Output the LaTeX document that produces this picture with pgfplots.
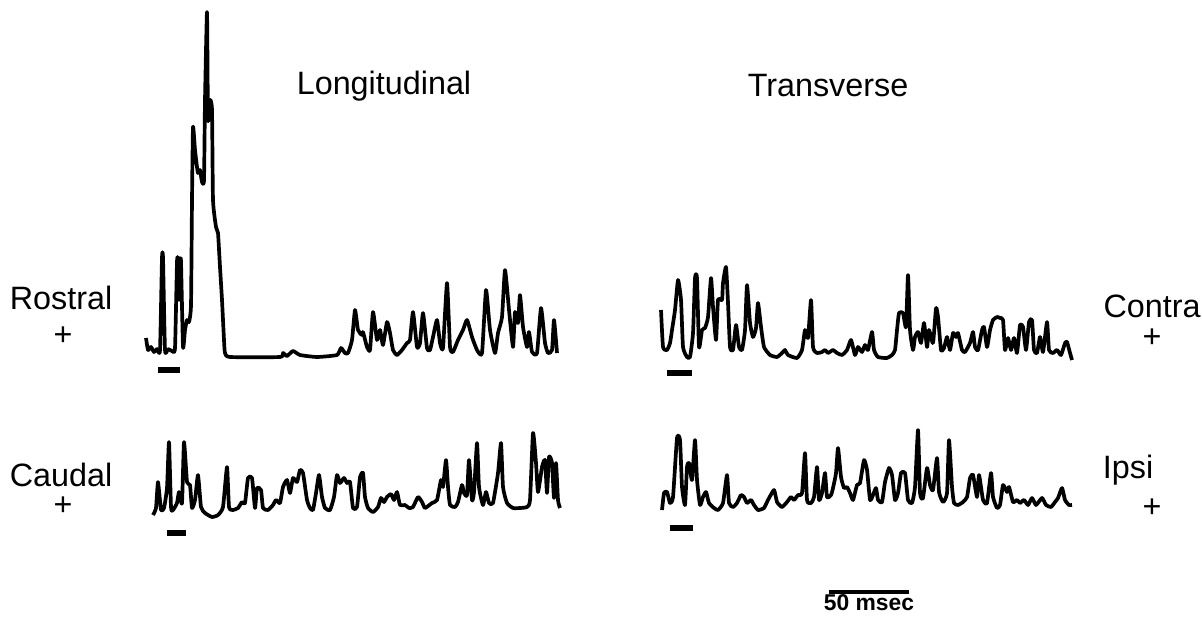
\documentclass[border=0pt]{standalone}
\usepackage{pgfplots}
\pgfplotsset{compat=1.18}
\usepackage{fontspec}
\setmainfont{Liberation Sans}
\begin{document}
\begin{tikzpicture}
\begin{axis}[
  width=12.02cm, height=6.21cm, scale only axis,
  xmin=0, xmax=1202, ymin=0, ymax=621, y dir=reverse,
  hide axis, clip=false,
  trace/.style={black, line width=1.05pt, line join=round, mark=none, smooth, tension=0.3},
]
% Rostral (longitudinal, top)
\addplot[trace] coordinates {
(146,338) (148,350) (151,347) (154,352) (157,349) (160,350) (162,258) (163,258) (165,350)
(168,349) (172,351) (175,348) (177,262) (178,260) (179,300) (180,262) (181,262) (183,347)
(185,330) (187,320) (189,322) (191,305) (192,200) (193,127) (195,150) (197,167) (198,173)
(200,170) (202,182) (204,180) (205,100) (207,12) (208,120) (210,100) (212,110) (213,200)
(216,227) (218,233) (220,267) (222,300) (224,340) (225,353) (230,357) (280,357) (283,353)
(287,356) (293,351) (300,355) (317,357) (337,355) (341,348) (345,353) (348,353) (352,340)
(355,310) (358,330) (362,335) (363,332) (367,347) (370,350) (373,312) (377,340) (380,330)
(383,345) (387,322) (390,333) (393,350) (397,355) (402,350) (407,343) (410,340) (413,312)
(417,347) (420,343) (423,313) (427,348) (430,350) (433,337) (437,320) (440,343) (443,348)
(447,283) (450,347) (453,352) (458,340) (463,330) (467,320) (472,337) (477,350) (482,353)
(486,290) (490,330) (495,353) (498,333) (502,317) (505,270) (509,310) (513,347) (515,312)
(518,323) (520,295) (523,327) (527,347) (529,332) (532,352) (537,353) (541,308) (545,343)
(548,353) (552,350) (554,320) (557,353)
};
% Contra (transverse, top)
\addplot[trace] coordinates {
(661,310) (663,347) (667,350) (670,343) (672,330) (675,310) (678,280) (681,300) (683,347)
(687,357) (690,357) (693,333) (695,278) (697,278) (699,347) (702,330) (705,328) (708,317)
(711,278) (713,307) (716,340) (718,300) (722,300) (723,283) (726,267) (728,303) (730,347)
(733,350) (736,325) (739,347) (742,350) (745,330) (747,285) (750,323) (753,337) (756,328)
(758,303) (761,327) (764,347) (770,355) (777,357) (782,353) (785,350) (788,355) (797,358)
(802,350) (805,330) (808,338) (811,300) (813,347) (817,353) (822,352) (825,350) (828,353)
(833,350) (837,353) (842,355) (847,350) (851,340) (855,355) (858,347) (862,352) (865,345)
(868,350) (872,332) (874,350) (878,357) (887,358) (892,355) (895,350) (897,330) (899,313)
(903,313) (906,327) (908,275) (910,330) (913,350) (915,337) (918,332) (921,343) (924,323)
(927,347) (929,330) (933,343) (936,308) (938,317) (941,350) (944,348) (947,337) (950,350)
(953,333) (956,337) (958,333) (962,350) (965,352) (970,343) (973,332) (975,347) (978,350)
(982,330) (984,327) (987,347) (990,330) (993,320) (997,317) (1000,318) (1003,320) (1005,350)
(1008,338) (1011,350) (1014,338) (1017,353) (1020,325) (1023,327) (1026,350) (1029,322)
(1032,320) (1034,350) (1037,353) (1040,337) (1043,352) (1047,322) (1049,350) (1053,353)
(1057,350) (1061,355) (1065,343) (1067,342) (1070,353) (1072,360)
};
% Caudal (longitudinal, bottom)
\addplot[trace] coordinates {
(153,515) (156,508) (158,482) (161,510) (164,508) (167,488) (169,442) (171,507) (173,510)
(177,503) (179,492) (182,503) (184,442) (187,482) (190,485) (192,508) (195,500) (198,475)
(201,507) (205,513) (212,517) (218,515) (223,507) (227,467) (229,507) (233,510) (238,508)
(242,502) (245,503) (248,478) (252,478) (255,508) (257,488) (261,490) (263,508) (268,510)
(273,505) (276,500) (280,503) (283,487) (287,480) (290,493) (293,478) (297,482) (300,470)
(303,473) (307,500) (310,508) (313,510) (316,493) (319,475) (322,497) (325,508) (330,510)
(334,497) (337,475) (340,483) (344,478) (347,483) (350,482) (353,508) (357,507) (360,477)
(363,473) (365,497) (368,508) (373,512) (378,507) (381,498) (384,502) (387,497) (391,494)
(394,500) (397,492) (400,505) (405,505) (409,508) (413,507) (418,497) (422,502) (425,508)
(432,503) (437,500) (441,480) (443,487) (446,460) (448,487) (450,505) (455,507) (458,502)
(462,485) (464,493) (467,495) (469,460) (472,500) (474,492) (477,443) (479,487) (483,505)
(486,492) (489,503) (493,503) (498,473) (501,443) (503,487) (507,503) (513,508) (520,508)
(527,507) (530,500) (533,433) (536,463) (538,492) (542,467) (545,460) (547,493) (549,457)
(552,463) (554,498) (556,463) (558,500) (560,508)
};
% Ipsi (transverse, bottom)
\addplot[trace] coordinates {
(662,510) (664,493) (667,492) (670,503) (673,497) (677,438) (680,440) (682,487) (685,505)
(687,467) (689,463) (692,480) (695,440) (697,480) (700,505) (703,497) (706,492) (709,503)
(714,508) (718,510) (723,503) (727,475) (729,503) (733,507) (737,503) (741,495) (744,497)
(747,503) (751,500) (754,505) (758,510) (764,508) (768,500) (774,490) (777,502) (782,507)
(787,502) (791,497) (794,500) (798,495) (802,493) (805,453) (807,500) (811,503) (814,497)
(817,467) (819,500) (822,493) (825,473) (827,497) (831,495) (833,488) (836,473) (838,448)
(841,477) (844,488) (847,487) (850,493) (853,500) (857,485) (860,483) (864,460) (867,470)
(870,500) (873,495) (876,488) (878,500) (882,502)
(885,482) (889,468) (892,475) (895,500) (898,493) (901,473) (905,473) (908,500) (912,503)
(915,487) (918,430) (920,493) (923,498) (927,468) (930,485) (933,490) (937,458) (939,492)
(943,502) (947,493) (949,440) (952,487) (954,503) (958,505) (963,502) (967,497) (970,478)
(973,475) (977,497) (979,475) (983,500) (987,503) (991,473) (993,497) (997,508) (1000,505)
(1003,485) (1007,492) (1009,487) (1013,502) (1017,500) (1020,503) (1024,500) (1028,505)
(1032,498) (1036,505) (1042,498) (1046,505) (1051,507) (1055,502) (1058,498) (1062,488)
(1065,500) (1069,505) (1072,505)
};
% stimulus markers
\addplot[black, mark=none, line width=1.6pt] coordinates {(158,370) (180,370)};
\addplot[black, mark=none, line width=1.6pt] coordinates {(667,373) (692,373)};
\addplot[black, mark=none, line width=1.6pt] coordinates {(167,533) (186,533)};
\addplot[black, mark=none, line width=1.6pt] coordinates {(670,528) (693,528)};
% scale bar
\addplot[black, mark=none, line width=1.1pt] coordinates {(829,592) (909,592)};
\node[font=\fontsize{6.5}{7}\selectfont\bfseries] at (axis cs:869,603) {50 msec};
\node[font=\fontsize{9.2}{10}\selectfont] at (axis cs:384,86) {Longitudinal};
\node[font=\fontsize{9.2}{10}\selectfont] at (axis cs:828,86) {Transverse};
\node[font=\fontsize{9.2}{10}\selectfont] at (axis cs:61,298) {Rostral};
\node[font=\fontsize{9.2}{10}\selectfont] at (axis cs:63,336) {+};
\node[font=\fontsize{9.2}{10}\selectfont] at (axis cs:61,475) {Caudal};
\node[font=\fontsize{9.2}{10}\selectfont] at (axis cs:63,506) {+};
\node[font=\fontsize{9.2}{10}\selectfont] at (axis cs:1152,306) {Contra};
\node[font=\fontsize{9.2}{10}\selectfont] at (axis cs:1152,338) {+};
\node[font=\fontsize{9.2}{10}\selectfont] at (axis cs:1128,470) {Ipsi};
\node[font=\fontsize{9.2}{10}\selectfont] at (axis cs:1152,508) {+};
\end{axis}
\pgfresetboundingbox
\path (current axis.south west) rectangle (current axis.north east);
\end{tikzpicture}
\end{document}
